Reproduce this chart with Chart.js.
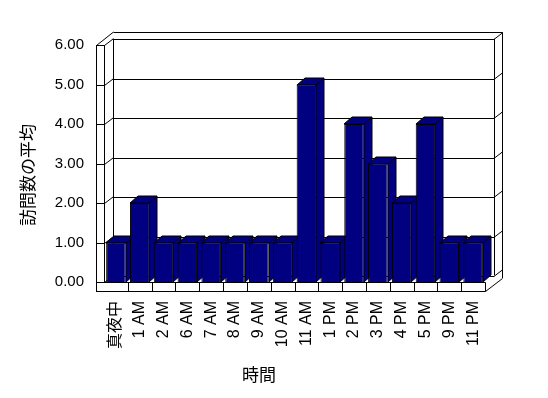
<!DOCTYPE html>
<html>
<head>
<meta charset="utf-8">
<title>訪問数の平均</title>
<script src="https://cdn.jsdelivr.net/npm/chart.js@4.4.1/dist/chart.umd.min.js"></script>
<style>
  html, body { margin: 0; padding: 0; background: #fff; }
  #wrap { width: 548px; height: 398px; }
</style>
</head>
<body>
<div id="wrap"><canvas id="chart" width="548" height="398"></canvas></div>
<script>
// data
var categories = ['真夜中', '1 AM', '2 AM', '6 AM', '7 AM', '8 AM', '9 AM', '10 AM',
  '11 AM', '1 PM', '2 PM', '3 PM', '4 PM', '5 PM', '9 PM', '11 PM'];
var avgVisits = [1, 2, 1, 1, 1, 1, 1, 1, 5, 1, 4, 3, 2, 4, 1, 1];
var yMin = 0;
var yMax = 6;
var yStep = 1;
var yTitle = '訪問数の平均';
var xTitle = '時間';

var NAVY = '#000080';
var FONT = "'Liberation Sans', 'Noto Sans CJK JP', sans-serif";
var CJK_FONT = "'Noto Sans CJK JP', 'Liberation Sans', sans-serif";

// depth of the fake 3d box (walls) and of the columns
var WALL = { dx: 8.5, dy: -6.5 };
var COL = { dx: 8, dy: -7 };
var WALL_W = 8;   // left wall thickness
var FLOOR_H = 9;  // floor thickness

function px(v) { return Math.round(v) + 0.5; }

function line(ctx, x1, y1, x2, y2) {
  ctx.beginPath();
  ctx.moveTo(x1, y1);
  ctx.lineTo(x2, y2);
  ctx.stroke();
}

function poly(ctx, pts) {
  ctx.beginPath();
  ctx.moveTo(pts[0][0], pts[0][1]);
  for (var i = 1; i < pts.length; i++) ctx.lineTo(pts[i][0], pts[i][1]);
  ctx.closePath();
  ctx.fill();
  ctx.stroke();
}

var box3d = {
  id: 'box3d',
  beforeDatasetsDraw: function(chart) {
    var ctx = chart.ctx;
    var ca = chart.chartArea;
    var yS = chart.scales.y;
    var L = ca.left, R = ca.right, T = ca.top, B = ca.bottom;
    var dx = WALL.dx, dy = WALL.dy;

    ctx.save();
    ctx.strokeStyle = '#000';
    ctx.lineWidth = 1;

    // left wall
    line(ctx, px(L - WALL_W), T, px(L - WALL_W), B + FLOOR_H + 1);
    line(ctx, px(L), T, px(L), B);
    line(ctx, px(L - WALL_W), T + 0.5, px(L - WALL_W) + 2 * dx, T + 2 * dy);

    // back wall
    line(ctx, px(L + dx), T + dy, px(L + dx), B + dy);
    line(ctx, px(R + dx), T + dy, px(R + dx), B + dy);
    line(ctx, px(L + dx), px(T + 2 * dy), px(R + 2 * dx), px(T + 2 * dy));
    line(ctx, px(R + 2 * dx), px(T + 2 * dy), px(R + 2 * dx), B + FLOOR_H + 2 * dy);

    // gridlines on the back wall, with ticks across the left wall
    for (var v = yMin; v <= yMax; v += yStep) {
      var y = px(yS.getPixelForValue(v));
      line(ctx, px(L - WALL_W), y, px(L), y);
      line(ctx, px(L), y, px(L) + dx, y + dy);
      line(ctx, px(L + dx), px(y + dy), px(R + dx), px(y + dy));
      line(ctx, px(R + dx), y + dy, px(R + dx) + dx, y + 2 * dy);
    }

    // floor
    line(ctx, px(L - WALL_W), px(B), px(R), px(B));
    line(ctx, px(L - WALL_W), px(B + FLOOR_H), px(R), px(B + FLOOR_H));
    line(ctx, px(R), px(B), px(R), px(B + FLOOR_H));
    line(ctx, px(R), px(B + FLOOR_H), px(R) + 2 * dx, px(B + FLOOR_H) + 2 * dy);
    var xS = chart.scales.x;
    for (var i = 1; i < categories.length; i++) {
      var bx = px((xS.getPixelForTick(i - 1) + xS.getPixelForTick(i)) / 2);
      line(ctx, bx, px(B), bx, px(B + FLOOR_H));
    }

    // column tops and sides, left to right; fronts are drawn by chart.js
    ctx.fillStyle = NAVY;
    var bars = chart.getDatasetMeta(0).data;
    bars.forEach(function(bar) {
      var l = Math.round(bar.x - bar.width / 2);
      var r = Math.round(bar.x + bar.width / 2);
      var t = Math.round(bar.y);
      var b = Math.round(bar.base);
      poly(ctx, [[r, t], [r + COL.dx, t + COL.dy], [r + COL.dx, b + COL.dy], [r, b]]);
      poly(ctx, [[l, t], [l + COL.dx, t + COL.dy], [r + COL.dx, t + COL.dy], [r, t]]);
    });
    ctx.restore();
  },
  afterDraw: function(chart) {
    var ctx = chart.ctx;
    ctx.save();
    ctx.fillStyle = '#000';
    ctx.font = '17px ' + CJK_FONT;
    ctx.textAlign = 'center';
    ctx.textBaseline = 'middle';
    ctx.fillText(xTitle, 259, 375);
    ctx.translate(28, 175);
    ctx.rotate(-Math.PI / 2);
    ctx.fillText(yTitle, 0, 0);
    ctx.restore();
  }
};

new Chart(document.getElementById('chart'), {
  type: 'bar',
  data: {
    labels: categories,
    datasets: [{
      data: avgVisits,
      backgroundColor: NAVY,
      borderColor: '#000',
      borderWidth: 1,
      categoryPercentage: 1,
      barPercentage: 0.82
    }]
  },
  options: {
    responsive: false,
    animation: false,
    layout: { padding: { left: 0, top: 45, right: 63, bottom: 0 } },
    plugins: {
      legend: { display: false },
      tooltip: { enabled: false }
    },
    scales: {
      x: {
        offset: true,
        grid: { display: false, drawTicks: false },
        border: { display: false },
        ticks: {
          autoSkip: false,
          maxRotation: 90,
          minRotation: 90,
          padding: 19,
          color: '#000',
          font: { family: FONT, size: 16 }
        },
        afterFit: function(s) { s.height = 116; }
      },
      y: {
        min: yMin,
        max: yMax,
        grid: { display: false, drawTicks: false },
        border: { display: false },
        ticks: {
          stepSize: yStep,
          padding: 20,
          color: '#000',
          font: { family: FONT, size: 15 },
          callback: function(v) { return v.toFixed(2); }
        },
        afterFit: function(s) { s.width = 104; }
      }
    }
  },
  plugins: [box3d]
});
</script>
</body>
</html>
